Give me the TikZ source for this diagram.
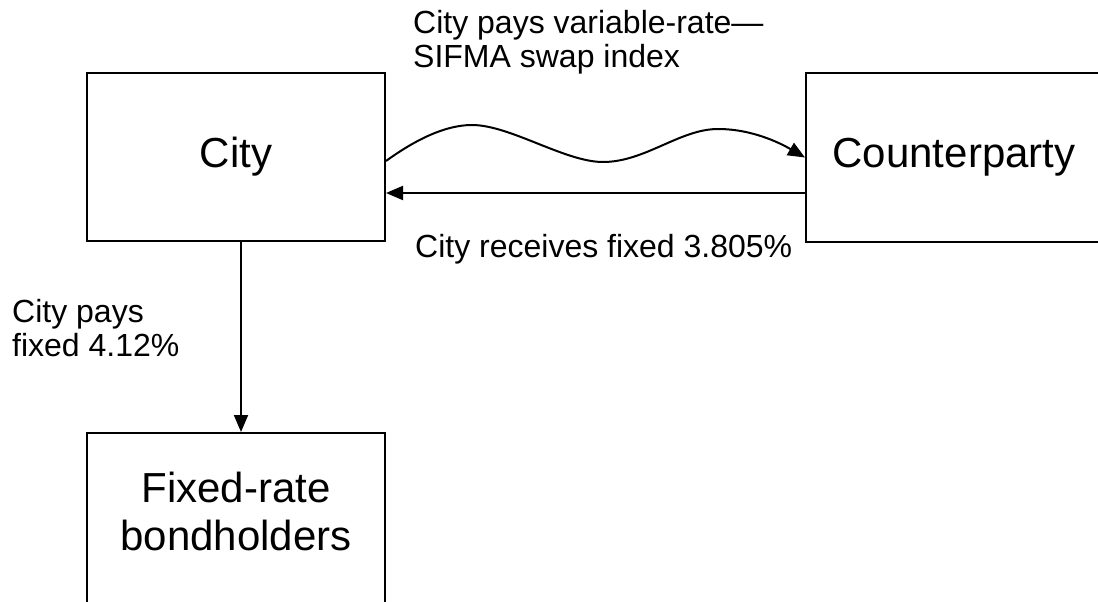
\documentclass[tikz,border=0pt]{standalone}
\usepackage{fontspec}
\setmainfont{Liberation Sans}
\usetikzlibrary{arrows.meta}
\tikzset{
  party/.style={draw, line width=2pt, inner sep=0pt,
                font=\fontsize{42}{48}\selectfont, align=center},
  partytext/.style={inner sep=0pt, font=\fontsize{42}{48}\selectfont, align=center},
  flow/.style={line width=2pt, -{Triangle[length=17pt,width=14pt]}},
  note/.style={inner sep=0pt, font=\fontsize{32}{34}\selectfont, align=left},
}
\begin{document}
\begin{tikzpicture}[x=1pt,y=-1pt]
  \useasboundingbox (0,0) rectangle (1098,602);
  \clip (0,0) rectangle (1098,602);

  % parties
  \node[party, minimum width=298pt, minimum height=168pt] (city) at (236,157) {City};
  \node[party, minimum width=296pt, minimum height=169pt] (cp) at (954,157.5) {Counterparty};
  \node[party, minimum width=298pt, minimum height=200pt, anchor=north] (bond) at (236,432) {};
  \node[partytext] (bondtext) at (236,511) {Fixed-rate\\bondholders};

  % variable-rate payment (wavy)
  \draw[flow] ([yshift=-4pt]city.east)
      .. controls (415,140) and (445,125) .. (472,125)
      .. controls (510,125) and (565,162) .. (603,162)
      .. controls (645,162) and (680,129) .. (718,129)
      .. controls (752,129) and (780,143) .. (cp.west);

  % fixed payment received
  \draw[flow] ([yshift=-35.5pt]cp.west) -- ([yshift=-36pt]city.east);

  % fixed payment to bondholders
  \draw[flow] ([xshift=5pt]city.south) -- ([xshift=5pt]bond.north);

  % labels
  \node[note, anchor=north west] (paysvar) at (413,10.5) {City pays variable-rate—\\SIFMA swap index};
  \node[note, anchor=base west] (recv) at (415,257) {City receives fixed 3.805\%};
  \node[note, anchor=north west] (paysfix) at (12,299.5) {City pays\\fixed 4.12\%};
\end{tikzpicture}
\end{document}
